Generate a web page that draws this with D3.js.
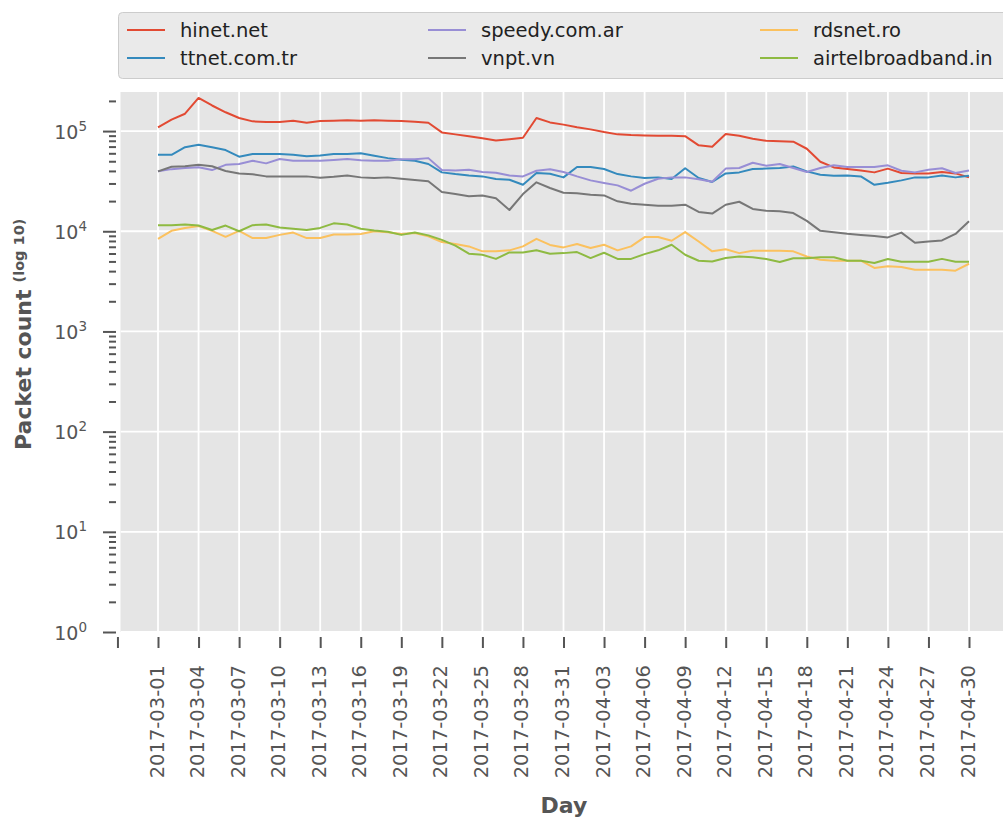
<!DOCTYPE html>
<html><head><meta charset="utf-8">
<script src="https://cdn.jsdelivr.net/npm/d3@7"></script>
<style>body{margin:0;background:#fff}svg{display:block}</style>
</head><body><svg id="c" width="1003" height="819"></svg>
<script>
const firstDay = "2017-03-01";
const lastDay = "2017-04-30";
const seriesNames = ["hinet.net","ttnet.com.tr","speedy.com.ar","vnpt.vn","rdsnet.ro","airtelbroadband.in"];
const seriesColors = ["#E24A33","#348ABD","#988ED5","#777777","#FBC15E","#8EBA42"];
const hinet = [109000,130000,149000,214000,180000,154000,135000,125000,123000,123000,127000,121000,126000,127000,128000,127000,128000,127000,126000,124000,121000,97000,92700,89000,85000,80700,83000,85800,135000,122000,116000,109000,104000,97700,92700,91200,90500,89800,89800,89000,72000,69700,93400,89800,83700,80000,79000,78300,66600,49400,43400,41800,40500,38700,42200,38100,37800,37800,39000,37800,34500];
const ttnet = [58000,58000,69000,73000,69000,64600,55500,59000,59000,59000,58000,56000,57000,59000,59000,60000,56800,53700,51800,50600,46900,38700,37200,36100,35300,33200,32700,29100,38100,37500,34500,43800,43800,41800,37200,35300,34000,34500,33200,42500,34000,31000,37800,38700,41800,42200,42800,44400,39600,36700,35800,36100,35300,29100,30500,32200,34500,34500,36100,34500,35800];
const speedy = [39600,41700,42700,43500,40800,46000,47000,50600,47600,52600,50600,50600,50600,51500,52600,51000,50600,50600,52200,52200,53700,40800,40500,41200,39000,38400,36100,35300,40200,41500,39000,35300,32200,30300,28700,25400,29800,33400,34500,34500,33000,31200,42200,42800,48300,45100,46900,42800,39000,42800,45500,43800,43800,43800,45500,40200,38700,41200,42500,38100,40500];
const vnpt = [39600,44000,44500,46000,44500,40000,37800,37000,35300,35300,35300,35300,34200,35000,36100,34500,34000,34500,33400,32400,31500,24600,23500,22400,22800,21400,16300,23500,30800,27000,24200,23900,23200,22800,19900,18800,18400,18000,18000,18400,15600,15000,18400,19700,16700,16000,15800,15200,12700,10100,9800,9440,9200,8950,8680,9700,7670,7900,8100,9400,12600];
const rdsnet = [8400,10100,10800,11300,10100,8800,10100,8550,8550,9200,9700,8550,8550,9300,9300,9400,9980,9800,9400,9600,8900,7800,7450,7060,6300,6300,6450,7060,8400,7300,6900,7450,6800,7330,6450,7060,8750,8750,8040,9800,7900,6300,6600,6050,6400,6400,6400,6300,5600,5200,5080,5080,5080,4300,4470,4400,4130,4130,4130,4040,4740];
const airtel = [11500,11500,11700,11400,10300,11400,10000,11500,11700,10900,10600,10300,10800,12000,11700,10600,10200,9900,9200,9700,9100,8200,7200,5970,5830,5300,6150,6150,6450,5970,6050,6200,5400,6100,5300,5300,5910,6450,7330,5830,5080,5000,5400,5600,5500,5280,4930,5370,5370,5500,5500,5080,5080,4820,5280,4970,4970,4970,5300,4970,4970];
const xTickLabels = ["","2017-03-01","2017-03-04","2017-03-07","2017-03-10","2017-03-13","2017-03-16","2017-03-19","2017-03-22","2017-03-25","2017-03-28","2017-03-31","2017-04-03","2017-04-06","2017-04-09","2017-04-12","2017-04-15","2017-04-18","2017-04-21","2017-04-24","2017-04-27","2017-04-30"];
const xTickDates = ["2017-02-26","2017-03-01","2017-03-04","2017-03-07","2017-03-10","2017-03-13","2017-03-16","2017-03-19","2017-03-22","2017-03-25","2017-03-28","2017-03-31","2017-04-03","2017-04-06","2017-04-09","2017-04-12","2017-04-15","2017-04-18","2017-04-21","2017-04-24","2017-04-27","2017-04-30"];
const yExponents = [0,1,2,3,4,5];
const yLabel = "Packet count";
const yLabelSup = "(log 10)";
const xLabel = "Day";

const allSeries = [hinet, ttnet, speedy, vnpt, rdsnet, airtel];
const parse = d3.utcParse("%Y-%m-%d");
const days = d3.utcDay.range(parse(firstDay), d3.utcDay.offset(parse(lastDay), 1));

const svg = d3.select("#c");
const font = "'DejaVu Sans', sans-serif";
const P = {left: 120.5, right: 1007, top: 92, bottom: 632};

const x = d3.scaleUtc().domain([parse(firstDay), parse(lastDay)]).range([158, 969]);
const y = d3.scaleLog().domain([1, Math.pow(10, 5.39)]).range([P.bottom, P.top]);

svg.append("defs").append("clipPath").attr("id", "clip")
  .append("rect").attr("x", P.left).attr("y", P.top).attr("width", P.right - P.left).attr("height", P.bottom - P.top);

svg.append("rect").attr("x", P.left).attr("y", P.top).attr("width", P.right - P.left).attr("height", P.bottom - P.top).attr("fill", "#E5E5E5");

const grid = svg.append("g").attr("clip-path", "url(#clip)");
const tickDates = xTickDates.map(parse);
grid.selectAll("line.v").data(tickDates).enter().append("line")
  .attr("x1", d => x(d)).attr("x2", d => x(d)).attr("y1", P.top).attr("y2", P.bottom)
  .attr("stroke", "#fff").attr("stroke-width", 1.8);
grid.selectAll("line.h").data(yExponents).enter().append("line")
  .attr("x1", P.left).attr("x2", P.right).attr("y1", d => y(Math.pow(10, d))).attr("y2", d => y(Math.pow(10, d)))
  .attr("stroke", "#fff").attr("stroke-width", 1.8);

const line = d3.line().x((d, i) => x(days[i])).y(d => y(d));
const lines = svg.append("g").attr("clip-path", "url(#clip)");
allSeries.forEach((s, k) => {
  lines.append("path").attr("d", line(s)).attr("fill", "none")
    .attr("stroke", seriesColors[k]).attr("stroke-width", 2).attr("stroke-linejoin", "round");
});

// x axis
const xAxis = d3.axisBottom(x).tickValues(tickDates).tickSize(11).tickFormat((d, i) => xTickLabels[i]);
const gx = svg.append("g").attr("transform", `translate(0,637)`).call(xAxis);
gx.select(".domain").remove();
gx.selectAll(".tick line").attr("stroke", "#555").attr("stroke-width", 2);
gx.selectAll(".tick text")
  .attr("fill", "#555").attr("font-family", font).attr("font-size", 19.5)
  .attr("text-anchor", "end").attr("dy", null).attr("y", 0).attr("x", 0)
  .attr("transform", "translate(5,28) rotate(-90)");

// y axis
const yTicks = [];
yExponents.forEach(e => {
  yTicks.push({v: Math.pow(10, e), major: true, e: e});
  if (e < 5) for (let m = 2; m <= 9; m++) yTicks.push({v: m * Math.pow(10, e), major: false});
});
yTicks.push({v: 2e5, major: false});
const yAxis = d3.axisLeft(y).tickValues(yTicks.map(t => t.v)).tickSize(13).tickFormat(() => "");
const gy = svg.append("g").attr("transform", `translate(116,0)`).call(yAxis);
gy.select(".domain").remove();
gy.selectAll(".tick").each(function(d, i) {
  const t = yTicks[i];
  const g = d3.select(this);
  g.select("line").attr("stroke", "#555").attr("stroke-width", 2).attr("x2", t.major ? -13 : -7);
  g.select("text").remove();
  if (t.major) {
    const tx = g.append("text").attr("x", -29).attr("y", 7).attr("text-anchor", "end")
      .attr("fill", "#555").attr("font-family", font).attr("font-size", 19);
    tx.append("tspan").text("10");
    tx.append("tspan").attr("font-size", 13.5).attr("dy", -8).text(String(t.e));
  }
});

// axis labels
svg.append("text").attr("x", 564).attr("y", 813).attr("text-anchor", "middle")
  .attr("font-family", font).attr("font-weight", "bold").attr("font-size", 22).attr("fill", "#555").text(xLabel);
const yl = svg.append("text").attr("transform", "translate(31,450) rotate(-90)")
  .attr("font-family", font).attr("font-weight", "bold").attr("font-size", 22).attr("fill", "#555");
yl.append("tspan").text(yLabel);
yl.append("tspan").attr("font-size", 14.5).attr("dx", 7).attr("dy", -7).text(yLabelSup);

// legend
const lg = svg.append("g");
lg.append("rect").attr("x", 118.5).attr("y", 12.5).attr("width", 900).attr("height", 66).attr("rx", 4)
  .attr("fill", "#EAEAEA").attr("stroke", "#CCCCCC").attr("stroke-width", 1);
const colX = [127, 428, 760];
const rowY = [30, 58];
seriesNames.forEach((n, k) => {
  const cx = colX[Math.floor(k / 2)], cy = rowY[k % 2];
  lg.append("line").attr("x1", cx).attr("x2", cx + 38).attr("y1", cy).attr("y2", cy)
    .attr("stroke", seriesColors[k]).attr("stroke-width", 2);
  lg.append("text").attr("x", cx + 53).attr("y", cy + 7).attr("font-family", font).attr("font-size", 19.5)
    .attr("fill", "#222").text(n);
});
</script></body></html>
